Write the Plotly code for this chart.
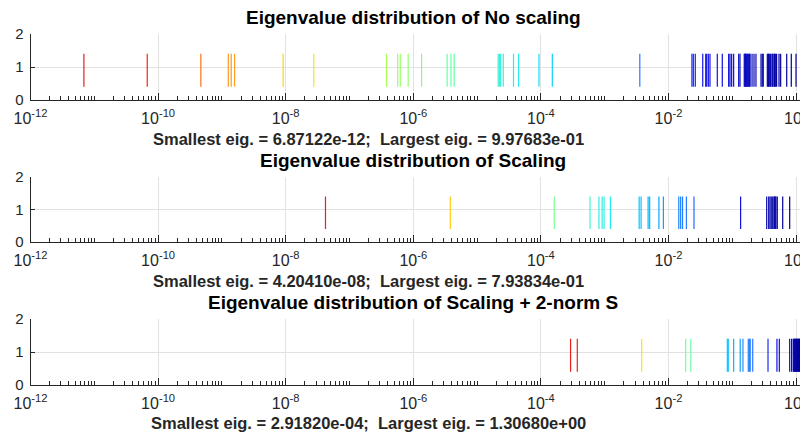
import numpy as np
import plotly.graph_objects as go
from plotly.colors import sample_colorscale

# ---------------- data ----------------
titles = [
    "Eigenvalue distribution of No scaling",
    "Eigenvalue distribution of Scaling",
    "Eigenvalue distribution of Scaling + 2-norm S",
]

eig_no_scaling = [
    6.87122e-12, 6.76e-11, 4.68e-10, 1.26e-9, 1.40e-9, 1.58e-9, 9.12e-9, 2.75e-8,
    3.80e-7, 5.69e-7, 6.25e-7, 8.32e-7, 1.35e-6, 3.39e-6, 3.89e-6, 4.37e-6,
    2.14e-5, 2.24e-5, 2.34e-5, 2.57e-5, 3.72e-5, 4.47e-5, 9.33e-5, 1.51e-4, 3.55e-3,
    2.33e-2, 2.45e-2, 2.63e-2, 3.44e-2, 3.83e-2, 3.97e-2, 4.21e-2, 4.47e-2, 5.82e-2,
    6.97e-2, 8.77e-2, 9.20e-2, 9.77e-2, 0.105, 0.126, 0.132, 0.154, 0.158, 0.160,
    0.163, 0.166, 0.172, 0.176, 0.181, 0.186, 0.190, 0.204, 0.219, 0.235, 0.282,
    0.295, 0.306, 0.354, 0.366, 0.373, 0.380, 0.399, 0.419, 0.430, 0.450, 0.460,
    0.472, 0.495, 0.540, 0.573, 0.713, 0.841, 9.97683e-01,
]

eig_scaling = [
    4.20410e-8, 3.80e-6, 1.62e-4, 5.89e-4, 8.13e-4, 9.12e-4, 9.77e-4, 1.23e-3,
    3.47e-3, 3.72e-3, 4.79e-3, 5.07e-3, 7.08e-3, 8.32e-3, 1.45e-2, 1.55e-2,
    1.66e-2, 1.91e-2, 2.51e-2, 0.135, 0.346, 0.372, 0.390, 0.408, 0.430, 0.450,
    0.462, 0.470, 0.483, 0.507, 0.617, 7.93834e-01,
]

eig_scaling_2norm = [
    2.91820e-4, 3.72e-4, 3.80e-3, 1.86e-2, 2.24e-2, 8.36e-2, 8.65e-2, 0.105,
    0.133, 0.147, 0.178, 0.185, 0.191, 0.209, 0.363, 0.501, 0.546, 0.794, 0.851,
    0.904, 0.923, 0.942, 0.962, 0.982, 1.000, 1.019, 1.038, 1.057, 1.076, 1.096,
    1.117, 1.138, 1.159, 1.180, 1.202, 1.225, 1.247, 1.271, 1.30680,
]

tick_vals = [1e-12, 1e-10, 1e-8, 1e-6, 1e-4, 1e-2, 1e0]
tick_text = ["10<sup>-12</sup>", "10<sup>-10</sup>", "10<sup>-8</sup>", "10<sup>-6</sup>",
             "10<sup>-4</sup>", "10<sup>-2</sup>", "10<sup>0</sup>"]
y_ticks = [0, 1, 2]

datasets = [eig_no_scaling, eig_scaling, eig_scaling_2norm]

# ---------------- style ----------------
# the page adds an 8px body margin, so the figure is 8px smaller and every
# reference pixel position is shifted by -8
OFF = 8
W, H = 808 - OFF, 436 - OFF
FONT = "Liberation Sans, Arial, sans-serif"
AX = "#262626"
GRID = "#e2e2e2"
BAR_LO, BAR_HI = 0.4, 1.4

cscale = [
    [0.00, "rgb(235,30,30)"],
    [0.10, "rgb(255,40,0)"],
    [0.20, "rgb(255,150,30)"],
    [0.30, "rgb(255,230,0)"],
    [0.42, "rgb(170,255,80)"],
    [0.52, "rgb(100,255,170)"],
    [0.62, "rgb(30,235,245)"],
    [0.70, "rgb(0,180,255)"],
    [0.78, "rgb(40,120,255)"],
    [0.87, "rgb(20,20,240)"],
    [1.00, "rgb(0,0,140)"],
]

x0_px, x1_px = 30.5 - OFF, 806.3 - OFF
y_px = [(34 - OFF, 100 - OFF), (177 - OFF, 242 - OFF), (319 - OFF, 385 - OFF)]
title_y_px = [18 - OFF, 160 - OFF, 302 - OFF]
label_y_px = [139 - OFF, 281 - OFF, 423 - OFF]
title_x_px = 413 - OFF
label_x_px = 368 - OFF

minor_vals = [k * 10.0 ** e for e in range(-12, 1) for k in range(1, 10)
              if 1e-12 <= k * 10.0 ** e <= 1.45]

fig = go.Figure()
layout = dict(
    width=W, height=H,
    margin=dict(l=0, r=0, t=0, b=0),
    paper_bgcolor="white", plot_bgcolor="white",
    showlegend=False,
    font=dict(family=FONT, color=AX, size=16),
)

annotations = []
for i, vals in enumerate(datasets):
    n = i + 1
    xa = "x" if n == 1 else f"x{n}"
    ya = "y" if n == 1 else f"y{n}"
    lv = np.log10(vals)
    f = (lv - lv.min()) / (lv.max() - lv.min())
    cols = sample_colorscale(cscale, list(f))
    for v, c in zip(vals, cols):
        fig.add_trace(go.Scatter(
            x=[v, v], y=[BAR_LO, BAR_HI], mode="lines",
            line=dict(color=c, width=1.2),
            xaxis=xa, yaxis=ya, hoverinfo="x",
        ))
    top, bot = y_px[i]
    layout[f"xaxis{'' if n == 1 else n}"] = dict(
        type="log", range=[-12, 0.16],
        domain=[x0_px / W, x1_px / W],
        anchor=ya,
        tickmode="array", tickvals=tick_vals, ticktext=tick_text,
        ticks="inside", ticklen=7, tickcolor=AX, tickwidth=1,
        ticklabelstandoff=4, ticklabeloverflow="allow",
        showline=True, linecolor=AX, linewidth=1,
        showgrid=True, gridcolor=GRID, gridwidth=1,
        zeroline=False, automargin=False,
        tickfont=dict(size=16, color=AX, family=FONT),
        minor=dict(tickmode="array", tickvals=minor_vals, ticks="inside",
                   ticklen=4, tickcolor=AX, tickwidth=1, showgrid=False),
    )
    layout[f"yaxis{'' if n == 1 else n}"] = dict(
        range=[0, 2],
        domain=[1 - bot / H, 1 - top / H],
        anchor=xa,
        tickmode="array", tickvals=y_ticks,
        ticks="inside", ticklen=4, tickcolor=AX,
        ticklabelstandoff=3,
        showline=True, linecolor=AX, linewidth=1,
        showgrid=True, gridcolor=GRID, gridwidth=1,
        zeroline=False, automargin=False,
        tickfont=dict(size=15, color=AX, family=FONT),
    )
    annotations.append(dict(
        text=f"<b>{titles[i]}</b>", xref="paper", yref="paper",
        x=title_x_px / W, y=1 - title_y_px[i] / H, xanchor="center", yanchor="middle",
        showarrow=False, font=dict(size=19, color="black", family=FONT),
    ))
    label = f"Smallest eig. = {min(vals):.5e};  Largest eig. = {max(vals):.5e}"
    annotations.append(dict(
        text=f"<b>{label.replace('  ', '&nbsp; ')}</b>", xref="paper", yref="paper",
        x=label_x_px / W, y=1 - label_y_px[i] / H, xanchor="center", yanchor="middle",
        showarrow=False, font=dict(size=16.5, color=AX, family=FONT),
    ))

layout["annotations"] = annotations
fig.update_layout(**layout)
fig.write_html("out.html")
